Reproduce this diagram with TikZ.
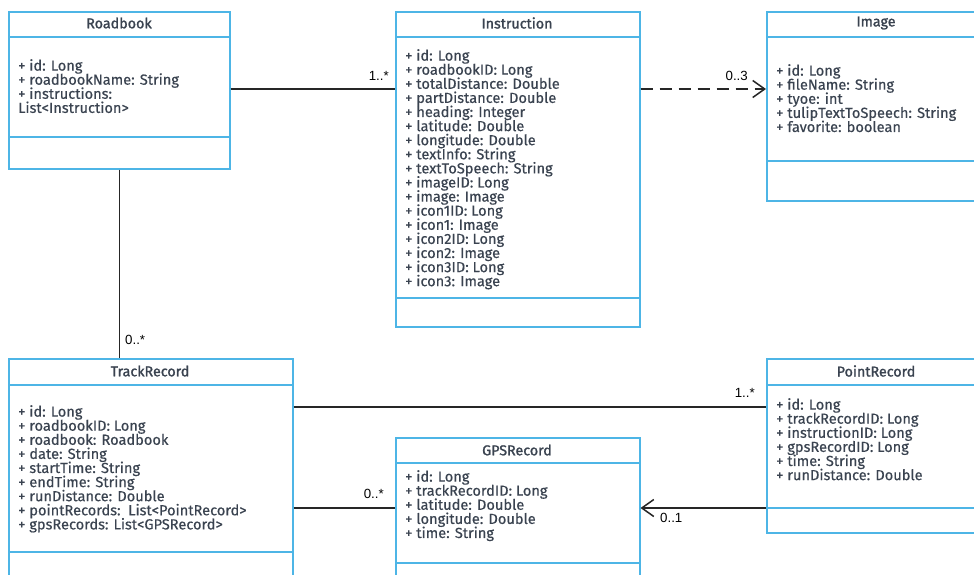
\documentclass[tikz,border=0pt]{standalone}
\usepackage{fontspec}
\setmainfont{Fira Sans}
\newfontfamily\bodyfont[FakeBold=0.4]{Fira Sans}
\newfontfamily\titlefont[FakeBold=1.4]{Fira Sans}
\newfontfamily\labelfont{Liberation Sans}
\newcommand\mytightlines{\lineskiplimit=-20pt\relax\lineskip=0pt\relax}
\usetikzlibrary{arrows.meta}
\definecolor{boxblue}{HTML}{4DB5E6}
\definecolor{txtgray}{HTML}{3A4350}
\tikzset{
  classbox/.style={draw=boxblue, line width=1.5pt, fill=white, anchor=north west, inner sep=0pt, rectangle},
  sepline/.style={draw=boxblue, line width=1.5pt},
  classtitle/.style={text=txtgray, font=\titlefont\fontsize{14.3}{14.1}\selectfont, inner sep=0pt},
  members/.style={text=txtgray, font=\bodyfont\fontsize{14.6}{14.1}\selectfont\mytightlines, align=left, anchor=north west, inner sep=0pt},
  assoc/.style={draw=black!85, line width=1.5pt},
  mult/.style={font=\labelfont\fontsize{13.3}{14}\selectfont, inner sep=0pt, text=black},
  openarrow/.style={-{Straight Barb[length=12pt,width=17pt,line width=1.5pt]}}
}
\begin{document}
\begin{tikzpicture}[x=1pt,y=-1pt]
\useasboundingbox (0,0) rectangle (974,574);
\clip (0,0) rectangle (974,574);
\fill[white] (0,0) rectangle (974,574);

% Roadbook
\node[classbox, minimum width=221pt, minimum height=157pt] (roadbook) at (8,11) {};
\draw[sepline] (8,37) -- (229,37);
\draw[sepline] (8,137) -- (229,137);
\node[classtitle] (roadbookT) at (119,23) {Roadbook};
\node[members] (roadbookM) at (18,59) {+ id: Long\\+ roadbookName: String\\+ instructions:\\List<Instruction>};

% Instruction
\node[classbox, minimum width=244pt, minimum height=315pt] (instruction) at (395,11) {};
\draw[sepline] (395,37) -- (639,37);
\draw[sepline] (395,298) -- (639,298);
\node[classtitle] (instructionT) at (517,23) {Instruction};
\node[members] (instructionM) at (405,49) {+ id: Long\\+ roadbookID: Long\\+ totalDistance: Double\\+ partDistance: Double\\+ heading: Integer\\+ latitude: Double\\+ longitude: Double\\+ textInfo: String\\+ textToSpeech: String\\+ imageID: Long\\+ image: Image\\+ icon1ID: Long\\+ icon1: Image\\+ icon2ID: Long\\+ icon2: Image\\+ icon3ID: Long\\+ icon3: Image};

% Image
\node[classbox, minimum width=220pt, minimum height=189pt] (image) at (766,11) {};
\draw[sepline] (766,37) -- (986,37);
\draw[sepline] (766,161) -- (986,161);
\node[classtitle] (imageT) at (876,23) {Image};
\node[members] (imageM) at (776,64) {+ id: Long\\+ fileName: String\\+ tyoe: int\\+ tulipTextToSpeech: String\\+ favorite: boolean};

% TrackRecord
\node[classbox, minimum width=284pt, minimum height=240pt] (track) at (8,358) {};
\draw[sepline] (8,385) -- (292,385);
\draw[sepline] (8,552) -- (292,552);
\node[classtitle] (trackT) at (150,371) {TrackRecord};
\node[members] (trackM) at (18,405) {+ id: Long\\+ roadbookID: Long\\+ roadbook: Roadbook\\+ date: String\\+ startTime: String\\+ endTime: String\\+ runDistance: Double\\+ pointRecords:~~List<PointRecord>\\+ gpsRecords: List<GPSRecord>};

% GPSRecord
\node[classbox, minimum width=244pt, minimum height=160pt] (gps) at (395,437) {};
\draw[sepline] (395,463) -- (639,463);
\draw[sepline] (395,563) -- (639,563);
\node[classtitle] (gpsT) at (517,450) {GPSRecord};
\node[members] (gpsM) at (405,470) {+ id: Long\\+ trackRecordID: Long\\+ latitude: Double\\+ longitude: Double\\+ time: String};

% PointRecord
\node[classbox, minimum width=220pt, minimum height=174pt] (point) at (766,358) {};
\draw[sepline] (766,385) -- (986,385);
\draw[sepline] (766,508) -- (986,508);
\node[classtitle] (pointT) at (876,371) {PointRecord};
\node[members] (pointM) at (776,398) {+ id: Long\\+ trackRecordID: Long\\+ instructionID: Long\\+ gpsRecordID: Long\\+ time: String\\+ runDistance: Double};

% Connectors
\draw[assoc] (roadbook.east |- 0,89) -- (instruction.west |- 0,89);
\draw[assoc, dash pattern=on 12pt off 7pt, openarrow] (instruction.east |- 0,89) -- (image.west |- 0,89);
\draw[assoc] (roadbook.south) -- (roadbook.south |- track.north);
\draw[assoc] (track.east |- 0,407) -- (point.west |- 0,407);
\draw[assoc] (track.east |- 0,508) -- (gps.west |- 0,508);
\draw[assoc, openarrow] (point.west |- 0,508) -- (gps.east |- 0,508);

% Multiplicities
\node[mult, anchor=east] (m1) at (389,76) {1..*};
\node[mult, anchor=east] (m2) at (748,76) {0..3};
\node[mult, anchor=west] (m3) at (125,340) {0..*};
\node[mult, anchor=east] (m4) at (755,393) {1..*};
\node[mult, anchor=east] (m5) at (384,494) {0..*};
\node[mult, anchor=west] (m6) at (660,518) {0..1};
\end{tikzpicture}
\end{document}
